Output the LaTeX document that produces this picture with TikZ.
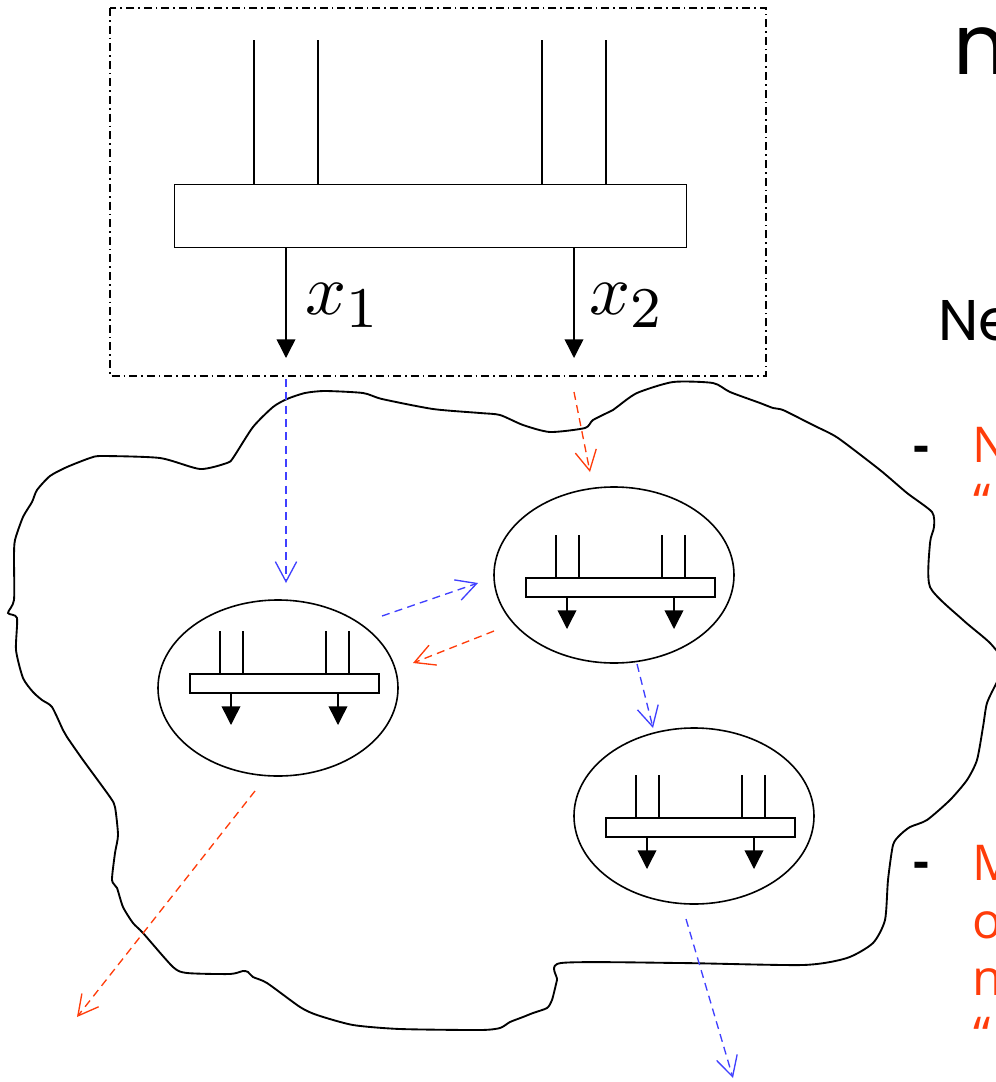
\documentclass[tikz,border=0pt]{standalone}
\usepackage{fontspec}
\usetikzlibrary{arrows.meta,shapes.geometric}
\newfontfamily\geofont{Poppins}
\newfontfamily\handfont{Open Sans}
\definecolor{flowblue}{RGB}{64,64,255}
\definecolor{flowred}{RGB}{255,60,10}
\newcommand{\subidx}[1]{\mbox{\fontsize{8}{9}\selectfont #1}}
\tikzset{
  gate/.style={draw=black, line width=1.1pt},
  gatetip/.style={-{Triangle[length=14pt,width=14pt]}},
  blob/.style={draw=black, line width=1.4pt},
  frame/.style={draw=black, line width=1.1pt, dash pattern=on 6pt off 3pt on 1.2pt off 3pt},
  cell/.style={ellipse, draw=black, line width=1.2pt, minimum width=180pt, minimum height=132pt, inner sep=0pt},
  flow/.style={line width=1pt, dash pattern=on 6pt off 4pt, -{Straight Barb[length=15pt,width=16pt]}},
  blueflow/.style={flow, draw=flowblue},
  redflow/.style={flow, draw=flowred},
  heading/.style={anchor=base west, inner sep=0pt, text=black},
  varlabel/.style={anchor=base west, inner sep=0pt, text=black, scale=5.4},
  redline/.style={anchor=base west, inner sep=0pt, text=flowred, font=\handfont\fontsize{37}{44}\selectfont},
  dashmark/.style={anchor=base west, inner sep=0pt, text=black, font=\handfont\bfseries\fontsize{37}{44}\selectfont},
  pics/minigate/.style={code={
    \draw[gate] (0,0) rectangle (189,19);
    \foreach \u in {30,53,136,159} {\draw[gate] (\u,0) -- (\u,-43);}
    \foreach \u in {41,148} {\draw[gate,gatetip] (\u,19) -- (\u,51);}
  }}
}
\begin{document}
\begin{tikzpicture}[x=0.75pt,y=-0.75pt]
\useasboundingbox (0,0) rectangle (996,1082);
\clip (0,0) rectangle (996,1082);

% irregular region holding the cells
\draw[blob] plot[smooth cycle, tension=0.4] coordinates {
 (273,407) (287,399) (305,393) (325,391) (363,393) (382,399) (433,409) (480,413)
 (500,415) (523,425) (550,432) (585,428) (593,420) (613,410) (617,407) (637,393)
 (673,382) (713,383) (730,392) (760,403) (773,408) (783,410) (807,422) (817,427)
 (838,438) (880,470) (907,493) (932,512) (934,527) (930,543) (930,587) (963,620)
 (990,643) (1006,665) (997,682) (987,703) (983,727) (977,760) (967,780) (950,800)
 (927,820) (910,827) (900,835) (893,845) (888,880) (885,920) (873,943) (847,958)
 (803,965) (680,963) (561,963) (557,980) (552,1000) (547,1008) (533,1013) (523,1017)
 (510,1022) (500,1028) (480,1030) (400,1029) (353,1025) (317,1015) (300,1007)
 (267,983) (253,977) (248,972) (243,971) (230,974) (187,973) (173,967) (143,933)
 (133,923) (123,907) (117,888) (112,880) (115,853) (118,835) (115,807) (110,797)
 (83,760) (67,737) (63,730) (52,707) (42,700) (33,692) (23,678) (16,650) (17,618)
 (8,613) (14,600) (14,557) (15,540) (23,517) (32,502) (37,490) (50,476) (67,467)
 (90,458) (102,456) (160,458) (200,469) (227,463) (233,458) (253,427)};

% large gate in its dash-dot frame
\draw[frame] (110,8) rectangle (766,376);
\node[gate, rectangle, minimum width=384pt, minimum height=47.25pt, inner sep=0pt, anchor=north west] (bigbar) at (174,184) {};
\foreach \u in {254,318,542,606} {\draw[gate] (\u,184) -- (\u,40);}
\coordinate (outA) at (286,247);
\coordinate (outB) at (574,247);
\coordinate (tipA) at (286,358);
\coordinate (tipB) at (574,358);
\draw[gate,gatetip] (outA) -- (tipA);
\draw[gate,gatetip] (outB) -- (tipB);
\node[varlabel] (lblA) at (304,314) {$x_{\subidx{1}}$};
\node[varlabel] (lblB) at (588,314) {$x_{\subidx{2}}$};

% cells
\node[cell] (e1) at (278,688) {};
\node[cell] (e2) at (614,575) {};
\node[cell] (e3) at (694,816) {};
\pic at (190,674) {minigate};
\pic at (526,578) {minigate};
\pic at (606,818) {minigate};

% message flow
\coordinate (a1s) at (286,379);  \coordinate (a1e) at (286,583);
\coordinate (a2s) at (382,616);  \coordinate (a2e) at (478,583);
\coordinate (a3s) at (637,664);  \coordinate (a3e) at (653,728);
\coordinate (a4s) at (686,919);  \coordinate (a4e) at (733,1078);
\coordinate (r1s) at (574,392);  \coordinate (r1e) at (590,472);
\coordinate (r2s) at (494,631);  \coordinate (r2e) at (413,663);
\coordinate (r3s) at (255,791);  \coordinate (r3e) at (77,1017);
\draw[blueflow] (a1s) -- (a1e);
\draw[blueflow] (a2s) -- (a2e);
\draw[blueflow] (a3s) -- (a3e);
\draw[blueflow] (a4s) -- (a4e);
\draw[redflow] (r1s) -- (r1e);
\draw[redflow] (r2s) -- (r2e);
\draw[redflow] (r3s) -- (r3e);

% side text
\node[heading, font=\geofont\fontsize{63}{70}\selectfont] (title) at (953,74) {n};
\node[heading, font=\geofont\fontsize{43}{50}\selectfont] (sub) at (938,340) {Ne};
\node[dashmark] (d1) at (913,462) {-};
\node[redline] (t1a) at (972,462) {N};
\node[redline] (t1b) at (973,519) {“};
\node[dashmark] (d2) at (913,878) {-};
\node[redline] (t2a) at (972,880) {M};
\node[redline] (t2b) at (972,938) {o};
\node[redline] (t2c) at (972,995) {n};
\node[redline] (t2d) at (973,1052) {“};
\end{tikzpicture}
\end{document}
